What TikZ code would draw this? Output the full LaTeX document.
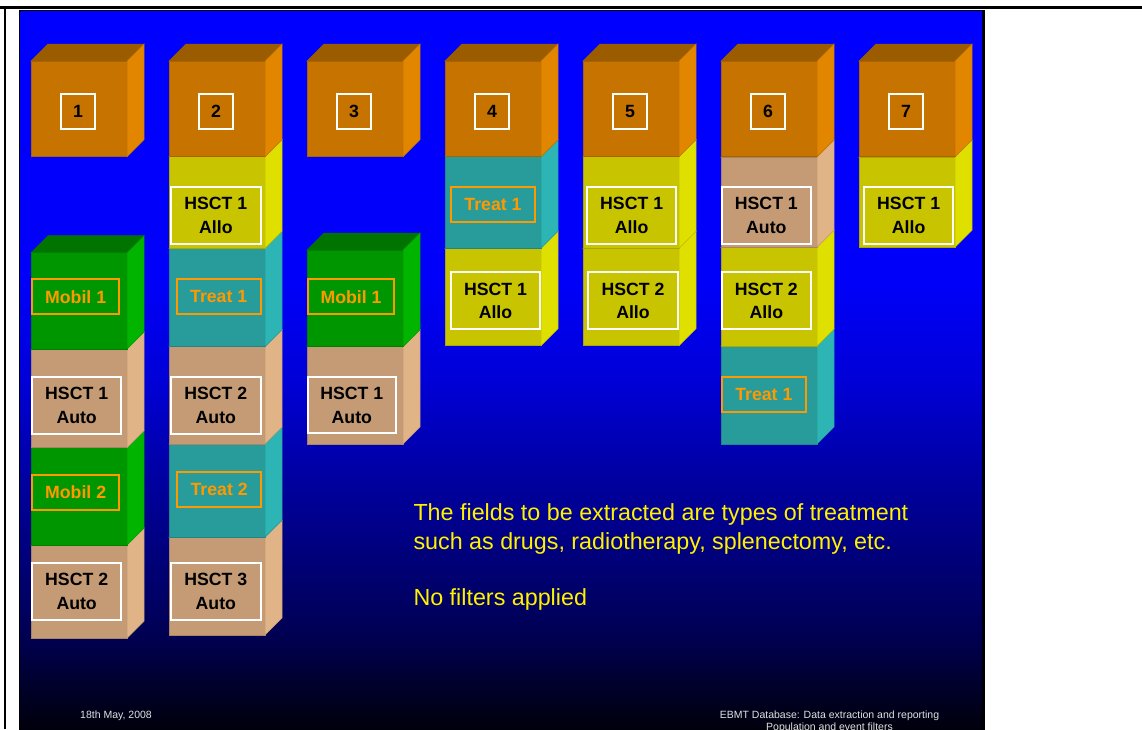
\documentclass[tikz,border=0pt]{standalone}
\usepackage{fontspec}
\setmainfont{Liberation Sans}
\definecolor{orF}{RGB}{198,115,0}
\definecolor{orT}{RGB}{155,92,0}
\definecolor{orS}{RGB}{226,134,0}
\definecolor{yeF}{RGB}{200,196,0}
\definecolor{yeT}{RGB}{160,157,0}
\definecolor{yeS}{RGB}{224,224,0}
\definecolor{teF}{RGB}{40,155,155}
\definecolor{teT}{RGB}{30,120,120}
\definecolor{teS}{RGB}{45,180,180}
\definecolor{taF}{RGB}{197,155,118}
\definecolor{taT}{RGB}{160,125,95}
\definecolor{taS}{RGB}{225,180,135}
\definecolor{grF}{RGB}{0,150,0}
\definecolor{grT}{RGB}{0,115,0}
\definecolor{grS}{RGB}{0,180,0}
\definecolor{lbOr}{RGB}{255,153,0}
\definecolor{footgray}{RGB}{225,225,225}
\definecolor{bgA}{RGB}{0,0,10}
\definecolor{bgB}{RGB}{0,0,40}
\definecolor{bgC}{RGB}{0,0,80}
\definecolor{bgD}{RGB}{0,0,120}
\definecolor{bgE}{RGB}{0,0,160}
\definecolor{bgF}{RGB}{0,0,215}
\definecolor{bgG}{RGB}{0,0,250}
\definecolor{bgH}{RGB}{0,0,255}
\pgfdeclareverticalshading{slidebg}{100bp}{color(0bp)=(bgA); color(25bp)=(bgA); color(27.9bp)=(bgB); color(31.4bp)=(bgC); color(36.9bp)=(bgD); color(42.5bp)=(bgE); color(49.4bp)=(bgF); color(56.4bp)=(bgG); color(75bp)=(bgH); color(100bp)=(bgH)}
\newcommand{\drawcube}[4]{%
  \filldraw[fill=#4T, draw=#4T, line width=0.5pt] (#1,#2) -- (#1+17,#2-17) -- (#1+113,#2-17) -- (#1+96,#2) -- cycle;
  \filldraw[fill=#4F, draw=#4F!85!black, line width=0.5pt] (#1,#2) rectangle (#1+96,#3);
  \filldraw[fill=#4S, draw=#4S!85!black, line width=0.5pt] (#1+96,#2) -- (#1+113,#2-17) -- (#1+113,#3-17) -- (#1+96,#3) -- cycle;
}
\newcommand{\lbl}[7]{%
  \node[#6, minimum width={#4-#2}, minimum height={#5-#3}] (#1) at ({(#2+#4)/2},{(#3+#5)/2}) {#7};
}
\begin{document}
\begin{tikzpicture}[x=1pt,y=-1pt,
  hbox/.style={draw=white, line width=1.7pt, inner sep=0pt, align=center, text=black, font=\bfseries\fontsize{17.7}{23.3}\selectfont},
  obox/.style={draw=lbOr, line width=1.7pt, inner sep=0pt, align=center, text=lbOr, font=\bfseries\fontsize{17.7}{23.3}\selectfont},
  body/.style={text=yellow, font=\fontsize{23.3}{28}\selectfont, inner sep=0pt, anchor=base west},
  foot/.style={text=footgray, font=\fontsize{10.5}{11.5}\selectfont, inner sep=0pt}]
\useasboundingbox (0,0) rectangle (1142,729);
\fill[white] (0,0) rectangle (1142,729);
\draw[line width=2.2pt] (0,7.5) -- (1142,7.5);
\draw[line width=2.4pt] (5,6.4) -- (5,729);
% slide
\fill[black] (19.3,10) rectangle (985,732);
\shade[shading=slidebg] (20.7,11.3) rectangle (982,732);
% column 1
\drawcube{31}{545}{638.3}{ta}
\drawcube{31}{447.7}{545}{gr}
\drawcube{31}{349}{447.7}{ta}
\drawcube{31}{252.7}{349}{gr}
\drawcube{31}{61}{156.7}{or}
% column 2
\drawcube{169}{537.3}{635}{ta}
\drawcube{169}{444}{537.3}{te}
\drawcube{169}{346.7}{444}{ta}
\drawcube{169}{248.3}{346.7}{te}
\drawcube{169}{156.7}{248.3}{ye}
\drawcube{169}{61}{156.7}{or}
% column 3
\drawcube{307}{346.7}{444}{ta}
\drawcube{307}{250}{346.7}{gr}
\drawcube{307}{61}{156.7}{or}
% column 4
\drawcube{445}{248.3}{345.7}{ye}
\drawcube{445}{156.7}{248.3}{te}
\drawcube{445}{61}{156.7}{or}
% column 5
\drawcube{583}{248.3}{345.7}{ye}
\drawcube{583}{156.7}{248.3}{ye}
\drawcube{583}{61}{156.7}{or}
% column 6
\drawcube{721}{346}{444}{te}
\drawcube{721}{247.3}{346}{ye}
\drawcube{721}{157.3}{247.3}{ta}
\drawcube{721}{61}{156.7}{or}
% column 7
\drawcube{859}{157.3}{247.3}{ye}
\drawcube{859}{61}{156.7}{or}
% number labels
\lbl{n1}{61.3}{93.7}{94.7}{128.7}{hbox}{1}
\lbl{n2}{199.3}{93.7}{232.7}{128.7}{hbox}{2}
\lbl{n3}{337.3}{93.7}{370.7}{128.7}{hbox}{3}
\lbl{n4}{475.3}{93.7}{508.7}{128.7}{hbox}{4}
\lbl{n5}{613.3}{93.7}{646.7}{128.7}{hbox}{5}
\lbl{n6}{751.3}{93.7}{784.7}{128.7}{hbox}{6}
\lbl{n7}{889.3}{93.7}{922.7}{128.7}{hbox}{7}
% column 1 labels
\lbl{m11}{32.3}{279.3}{119}{314.3}{obox}{Mobil 1}
\lbl{h11}{32.3}{376.7}{121}{434}{hbox}{HSCT 1\\Auto}
\lbl{m12}{32.3}{475}{119}{510}{obox}{Mobil 2}
\lbl{h12}{32.3}{562.7}{121}{620}{hbox}{HSCT 2\\Auto}
% column 2 labels
\lbl{h21}{171}{186.7}{260.7}{244.3}{hbox}{HSCT 1\\Allo}
\lbl{t21}{176.7}{279.3}{260.7}{314.3}{obox}{Treat 1}
\lbl{h22}{171}{376.7}{260.7}{434}{hbox}{HSCT 2\\Auto}
\lbl{t22}{177.3}{471.7}{261}{507.3}{obox}{Treat 2}
\lbl{h23}{171}{562.7}{260.7}{620}{hbox}{HSCT 3\\Auto}
% column 3 labels
\lbl{m31}{307.7}{279.3}{394.3}{314.3}{obox}{Mobil 1}
\lbl{h31}{307.7}{377.3}{396}{433.3}{hbox}{HSCT 1\\Auto}
% column 4 labels
\lbl{t41}{451}{186.7}{535}{221.7}{obox}{Treat 1}
\lbl{h41}{451}{272.3}{540}{329.3}{hbox}{HSCT 1\\Allo}
% column 5 labels
\lbl{h51}{587.3}{186.7}{676}{244}{hbox}{HSCT 1\\Allo}
\lbl{h52}{588.3}{272.3}{677.7}{329.3}{hbox}{HSCT 2\\Allo}
% column 6 labels
\lbl{h61}{721.7}{186.7}{811}{244.3}{hbox}{HSCT 1\\Auto}
\lbl{h62}{721.7}{272.3}{811}{329.3}{hbox}{HSCT 2\\Allo}
\lbl{t61}{721.7}{376.7}{806}{411.7}{obox}{Treat 1}
% column 7 labels
\lbl{h71}{864}{186.7}{953.3}{244.3}{hbox}{HSCT 1\\Allo}
% body text
\node[body] (txt1) at (413.3,520.7) {The fields to be extracted are types of treatment};
\node[body] (txt2) at (413.3,549) {such as drugs, radiotherapy, splenectomy, etc.};
\node[body] (txt3) at (413.3,605) {No filters applied};
% footer
\node[foot, anchor=base west] (f1) at (80,718.3) {18th May, 2008};
\node[foot, anchor=base] (f2) at (829.5,718.3) {EBMT Database: Data extraction and reporting};
\node[foot, anchor=base] (f3) at (829.5,730) {Population and event filters};
\end{tikzpicture}
\end{document}
